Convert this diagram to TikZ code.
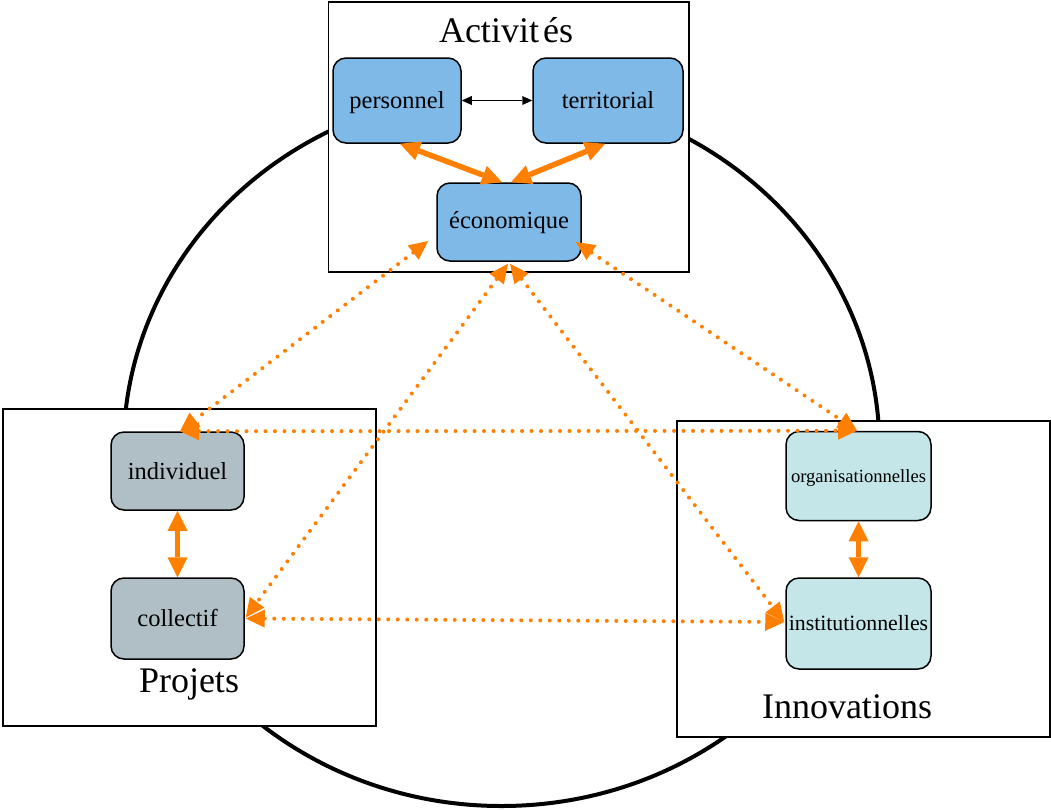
\documentclass[tikz,border=0pt]{standalone}
\usepackage{fontspec}
\setmainfont{Liberation Serif}
\usetikzlibrary{arrows.meta,calc}
\definecolor{acol}{RGB}{126,185,232}
\definecolor{pcol}{RGB}{176,190,197}
\definecolor{icol}{RGB}{197,230,232}
\definecolor{orng}{RGB}{255,128,0}
\begin{document}
\begin{tikzpicture}[x=1pt,y=-1pt,
  frame/.style={draw=black, line width=1.2pt, fill=white, inner sep=0pt},
  rnode/.style={draw=black, line width=1.5pt, rounded corners=13pt, inner sep=0pt,
    font=\fontsize{24.5}{26}\selectfont, text height=18.4pt, text depth=2.2pt},
  anode/.style={rnode, fill=acol, minimum height=85pt},
  pnode/.style={rnode, fill=pcol, minimum width=133pt},
  inode/.style={rnode, fill=icol, minimum width=145pt},
  title/.style={font=\fontsize{36}{40}\selectfont, anchor=base, inner sep=0pt},
  solidarr/.style={draw=orng, line width=5.5pt,
    arrows={Triangle[length=20pt,width=20pt,line width=0pt]-Triangle[length=20pt,width=20pt,line width=0pt]}},
  dotarr/.style={draw=orng, line width=4pt, line cap=round, dash pattern=on 0pt off 9.5pt,
    arrows={Triangle[length=19pt,width=18pt,line width=0pt]-Triangle[length=19pt,width=18pt,line width=0pt]}},
  thinarr/.style={draw=black, line width=1.2pt,
    arrows={Triangle[length=10pt,width=9pt,line width=0pt]-Triangle[length=10pt,width=9pt,line width=0pt]}}
]
\useasboundingbox (0,0) rectangle (1051,809);

% big ellipse
\draw[line width=4pt] (501.5,449) ellipse [x radius=378pt, y radius=357pt];

% frames
\node[frame, minimum width=360.5pt, minimum height=270pt] (actbox) at (508.75,137) {};
\node[frame, minimum width=373pt, minimum height=317pt] (probox) at (189.5,567.5) {};
\node[frame, minimum width=373pt, minimum height=316pt] (innbox) at (863.5,579) {};

% titles
\node[title] (tact) at (506,42) {Activit\kern4pt és};
\node[title] (tpro) at (189,692) {Projets};
\node[title] (tinn) at (847,718) {Innovations};

% nodes
\node[anode, minimum width=128pt] (personnel) at (397,100.5) {personnel};
\node[anode, minimum width=150pt] (territorial) at (608,100.5) {territorial};
\node[anode, minimum width=144pt, minimum height=78pt, text height=17pt, text depth=3.6pt] (economique) at (509,222) {économique};
\node[pnode, minimum height=78pt] (individuel) at (177.5,471) {individuel};
\node[pnode, minimum height=81pt] (collectif) at (177.5,618.5) {collectif};
\node[inode, minimum height=89pt, font=\fontsize{18.6}{20}\selectfont, text height=14pt, text depth=0.6pt] (organisationnelles) at (858.5,476) {organisationnelles};
\node[inode, minimum height=91pt, font=\fontsize{21.8}{23}\selectfont, text height=14.5pt, text depth=1.5pt] (institutionnelles) at (858.5,623.5) {institutionnelles};

% connectors
\draw[thinarr] (personnel.east) -- (territorial.west);
\draw[solidarr] ($(personnel.south)+(3,0)$) -- ($(economique.north)+(-7,0)$);
\draw[solidarr] ($(territorial.south)+(-3,0)$) -- ($(economique.north)+(2,0)$);
\draw[solidarr] (individuel.south) -- (collectif.north);
\draw[solidarr] (organisationnelles.south) -- (institutionnelles.north);

\draw[dotarr] ($(economique.west)+(-8,19)$) -- ($(individuel.north)+(2.5,0)$);
\draw[dotarr] ($(economique.east)+(-6,20)$) -- ($(organisationnelles.north)+(-1.5,0)$);
\draw[dotarr] ($(economique.south)+(-1,2)$) -- ($(collectif.east)+(1,-1)$);
\draw[dotarr] ($(economique.south)+(1,2)$) -- ($(institutionnelles.west)+(-1,-1.5)$);
\draw[dotarr] ($(individuel.north)+(2.5,0)$) -- ($(organisationnelles.north)+(-1.5,0)$);
\draw[dotarr] ($(collectif.east)+(1,0)$) -- ($(institutionnelles.west)+(-1,-1.5)$);
\end{tikzpicture}
\end{document}
